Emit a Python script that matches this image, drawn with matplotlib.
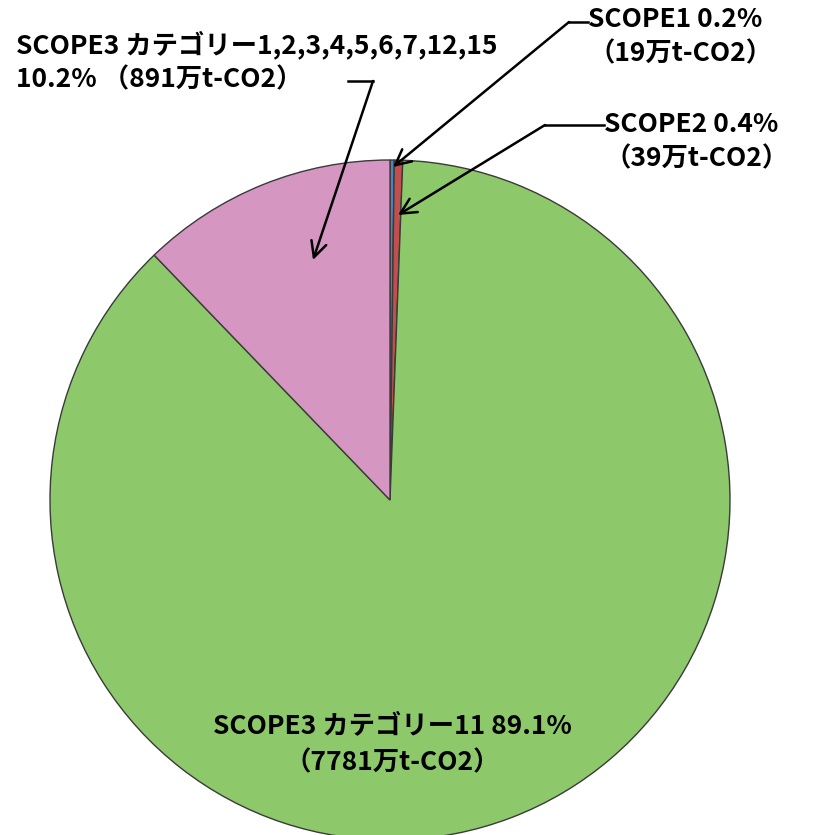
import matplotlib.pyplot as plt

plt.rcParams['font.family'] = ['Noto Sans CJK JP', 'DejaVu Sans']

W, H = 821, 835

names = ['SCOPE1', 'SCOPE2', 'SCOPE3 カテゴリー11', 'SCOPE3 カテゴリー1,2,3,4,5,6,7,12,15']
amounts = [19, 39, 7781, 891]          # 万t-CO2
pct_labels = ['0.2%', '0.4%', '89.1%', '10.2%']
# wedge shares as drawn in the picture
shares = [0.2, 0.4, 87.2, 12.2]
colors = ['#4F81BD', '#C0504D', '#8DC96A', '#D597C2']


def py(y):
    # pixel row (from top) -> data y
    return H - y


fig = plt.figure(figsize=(W / 100, H / 100), dpi=100)
ax = fig.add_axes([0, 0, 1, 1])

ax.pie(shares, colors=colors, startangle=90, counterclock=False,
       center=(390, py(500)), radius=340, frame=True,
       wedgeprops={'edgecolor': '#3a3a3a', 'linewidth': 1.0})

ax.set_xlim(0, W)
ax.set_ylim(0, H)
ax.set_aspect('equal')
ax.axis('off')

fs = 19
txt = dict(fontsize=fs, fontweight='bold', color='black', linespacing=1.35)

# SCOPE1
ax.text(588, py(37), names[0] + ' ' + pct_labels[0] + '\n（' + str(amounts[0]) + '万t-CO2）',
        ha='left', va='center', **txt)
# SCOPE2
ax.text(604, py(142), names[1] + ' ' + pct_labels[1] + '\n（' + str(amounts[1]) + '万t-CO2）',
        ha='left', va='center', **txt)
# SCOPE3 others
ax.text(16, py(62), names[3] + '\n' + pct_labels[3] + ' （' + str(amounts[3]) + '万t-CO2）',
        ha='left', va='center', **txt)
# SCOPE3 cat 11
ax.text(392, py(744), names[2] + ' ' + pct_labels[2] + '\n（' + str(amounts[2]) + '万t-CO2）',
        ha='center', va='center', multialignment='center',
        **dict(txt, linespacing=1.5))

arrow = dict(arrowstyle='->', color='black', lw=1.8, mutation_scale=28, shrinkA=0, shrinkB=0)

# leader lines
ax.plot([569, 588], [py(22), py(22)], color='black', lw=1.8)
ax.annotate('', xy=(393, py(167)), xytext=(569, py(22)), arrowprops=arrow)

ax.plot([545, 604], [py(125), py(125)], color='black', lw=1.8)
ax.annotate('', xy=(398, py(215)), xytext=(545, py(125)), arrowprops=arrow)

ax.plot([348, 373], [py(81), py(81)], color='black', lw=1.8)
ax.annotate('', xy=(313, py(260)), xytext=(373, py(81)), arrowprops=arrow)

fig.savefig('out.png', dpi=100)
